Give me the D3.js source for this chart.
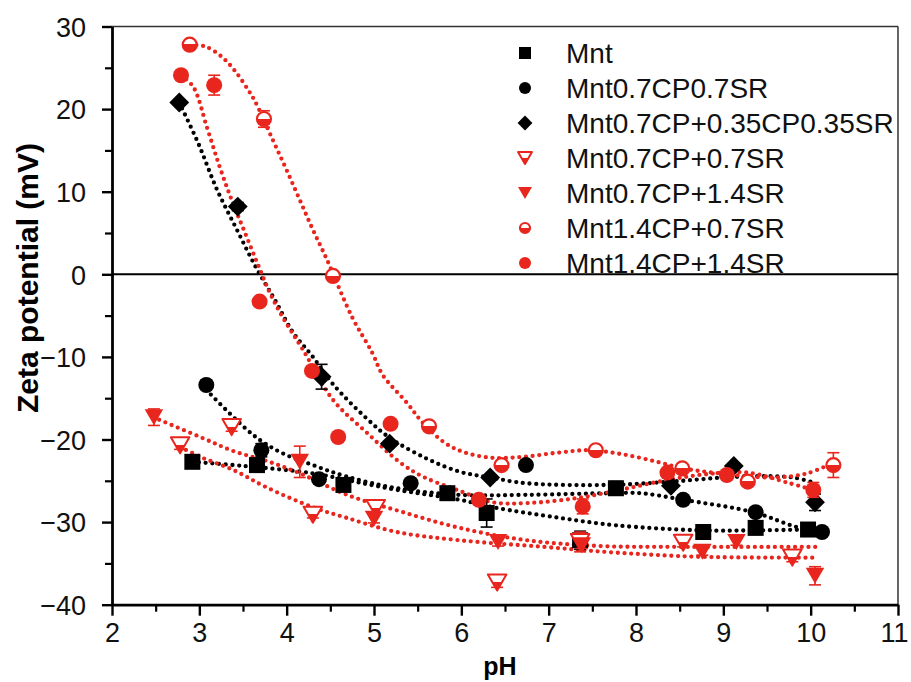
<!DOCTYPE html>
<html>
<head>
<meta charset="utf-8">
<script src="https://cdn.jsdelivr.net/npm/d3@7"></script>
<style>
  body { margin: 0; background: #fff; }
  svg { display: block; font-family: "Liberation Sans", Arial, sans-serif; }
</style>
</head>
<body>
<svg id="chart" width="911" height="682"></svg>
<script>
// ---- data ----
var seriesNames = ["Mnt", "Mnt0.7CP0.7SR", "Mnt0.7CP+0.35CP0.35SR", "Mnt0.7CP+0.7SR",
                   "Mnt0.7CP+1.4SR", "Mnt1.4CP+0.7SR", "Mnt1.4CP+1.4SR"];

var mntPH   = [2.92, 3.66, 4.65, 5.84, 6.29, 7.36, 7.77, 8.77, 9.37, 9.97];
var mntZeta = [-22.7, -23.1, -25.5, -26.5, -28.9, -32.2, -25.9, -31.2, -30.7, -30.9];
var mntErr  = [0.6, 0.4, 0.3, 0.3, 1.7, 1.1, 0.8, 0.3, 0.3, 0.4];
var mntFitPH   = [2.92, 3.50, 4.30, 4.87, 5.26, 5.98, 6.36, 7.13, 7.78, 8.73, 9.39, 9.96];
var mntFitZeta = [-22.7, -23.2, -24.1, -25.3, -26.1, -27.3, -28.2, -29.5, -30.4, -31.0, -31.0, -30.9];

var cpsrPH   = [3.08, 3.71, 4.37, 5.42, 6.74, 8.54, 9.37, 10.13];
var cpsrZeta = [-13.4, -21.3, -24.8, -25.3, -23.1, -27.3, -28.8, -31.2];
var cpsrErr  = [0.3, 0.8, 0.3, 0.3, 0.3, 0.4, 0.3, 0.5];
var cpsrFitPH   = [3.08, 3.61, 3.92, 4.30, 4.69, 5.26, 5.98, 6.75, 7.70, 8.05, 8.54, 9.34, 9.84, 10.13];
var cpsrFitZeta = [-14.0, -19.4, -21.5, -23.1, -24.5, -25.9, -26.7, -26.7, -26.5, -26.5, -27.3, -28.8, -30.6, -31.2];

var mixPH   = [2.77, 3.44, 4.40, 5.18, 6.33, 8.40, 9.12, 10.05];
var mixZeta = [20.8, 8.2, -12.4, -20.5, -24.6, -25.6, -23.2, -27.6];
var mixErr  = [0.3, 0.5, 1.5, 0.3, 0.3, 0.3, 0.3, 1.0];
var mixFitPH   = [2.77, 2.99, 3.20, 3.43, 3.65, 3.87, 4.07, 4.30, 4.53, 4.92, 5.18, 5.60, 5.98, 6.33, 6.75, 7.70, 8.40, 9.19, 9.80, 10.05];
var mixFitZeta = [20.8, 15.8, 10.3, 5.4, 0.8, -3.2, -7.0, -10.0, -13.3, -17.5, -19.8, -22.3, -23.9, -24.6, -25.3, -25.5, -25.1, -24.5, -24.6, -25.3];

var sr07PH   = [2.78, 3.37, 4.30, 5.02, 6.41, 7.36, 8.54, 9.79];
var sr07Zeta = [-20.7, -18.5, -29.1, -28.3, -37.3, -32.4, -32.5, -34.3];
var sr07Err  = [0.5, 0.5, 0.4, 0.5, 0.6, 1.2, 0.5, 0.5];
var sr07FitPH   = [2.78, 3.01, 3.39, 3.77, 4.30, 4.69, 5.26, 5.98, 6.94, 7.78, 8.73, 10.07];
var sr07FitZeta = [-20.9, -22.1, -23.7, -25.8, -28.2, -29.5, -31.2, -32.2, -33.0, -33.7, -34.2, -34.3];

var sr14PH   = [2.48, 4.15, 5.00, 6.42, 7.38, 8.76, 9.15, 10.05];
var sr14Zeta = [-17.3, -22.7, -29.6, -32.4, -32.8, -33.6, -32.4, -36.5];
var sr14Err  = [1.0, 1.9, 0.5, 0.5, 0.4, 0.4, 0.4, 1.1];
var sr14FitPH   = [2.47, 3.01, 3.39, 3.77, 4.15, 4.69, 5.30, 5.98, 6.75, 7.59, 8.50, 10.07];
var sr14FitZeta = [-17.3, -19.7, -21.4, -22.6, -24.1, -26.7, -28.7, -30.7, -32.2, -32.9, -33.0, -33.0];

var cp14sr07PH   = [2.89, 3.74, 4.53, 5.63, 6.46, 7.54, 8.53, 9.28, 10.26];
var cp14sr07Zeta = [27.8, 18.8, -0.2, -18.4, -23.1, -21.3, -23.5, -25.1, -23.1];
var cp14sr07Err  = [0.4, 1.0, 0.5, 0.3, 0.4, 0.4, 0.3, 0.3, 1.5];
var cp14sr07FitPH   = [2.89, 3.01, 3.09, 3.26, 3.41, 3.56, 3.64, 3.84, 4.00, 4.15, 4.30, 4.46, 4.75, 4.98, 5.10, 5.38, 5.56, 5.81, 6.02, 6.33, 6.71, 7.10, 7.47, 7.85, 8.24, 8.54, 8.96, 9.57, 9.96, 10.26];
var cp14sr07FitZeta = [27.8, 27.7, 27.5, 26.3, 24.6, 22.3, 20.9, 16.3, 12.6, 9.0, 5.4, 1.8, -5.2, -9.5, -12.2, -15.6, -18.0, -20.4, -21.5, -22.2, -22.1, -21.6, -21.3, -21.8, -22.7, -23.5, -24.1, -24.6, -24.1, -22.8];

var cp14sr14PH   = [2.79, 3.17, 3.69, 4.29, 4.59, 5.19, 6.20, 7.39, 8.36, 9.04, 10.03];
var cp14sr14Zeta = [24.1, 22.9, -3.3, -11.7, -19.7, -18.1, -27.3, -28.1, -24.0, -24.3, -26.1];
var cp14sr14Err  = [0.5, 1.2, 0.3, 0.3, 0.3, 0.3, 0.3, 0.9, 0.3, 0.3, 0.9];
var cp14sr14FitPH   = [2.79, 2.93, 3.09, 3.23, 3.37, 3.52, 3.67, 3.81, 3.96, 4.19, 4.53, 4.92, 5.30, 5.56, 5.95, 6.36, 6.75, 7.32, 7.82, 8.36, 8.81, 9.27, 9.76, 10.03];
var cp14sr14FitZeta = [24.1, 22.7, 17.7, 13.1, 9.0, 5.1, 1.2, -2.3, -5.3, -9.2, -15.2, -19.2, -22.8, -24.5, -26.1, -27.6, -27.7, -27.1, -26.1, -24.9, -24.2, -24.0, -25.3, -26.1];

var xTicks = [2, 3, 4, 5, 6, 7, 8, 9, 10, 11];
var yTicks = [-40, -30, -20, -10, 0, 10, 20, 30];

var RED = "#e8261e", BLACK = "#000";

// table built from the arrays above
var series = [
  {name: seriesNames[0], ph: mntPH, z: mntZeta, err: mntErr, fx: mntFitPH, fy: mntFitZeta, color: BLACK, shape: "square"},
  {name: seriesNames[1], ph: cpsrPH, z: cpsrZeta, err: cpsrErr, fx: cpsrFitPH, fy: cpsrFitZeta, color: BLACK, shape: "circle"},
  {name: seriesNames[2], ph: mixPH, z: mixZeta, err: mixErr, fx: mixFitPH, fy: mixFitZeta, color: BLACK, shape: "diamond"},
  {name: seriesNames[3], ph: sr07PH, z: sr07Zeta, err: sr07Err, fx: sr07FitPH, fy: sr07FitZeta, color: RED, shape: "triHalf"},
  {name: seriesNames[4], ph: sr14PH, z: sr14Zeta, err: sr14Err, fx: sr14FitPH, fy: sr14FitZeta, color: RED, shape: "tri"},
  {name: seriesNames[5], ph: cp14sr07PH, z: cp14sr07Zeta, err: cp14sr07Err, fx: cp14sr07FitPH, fy: cp14sr07FitZeta, color: RED, shape: "circleHalf"},
  {name: seriesNames[6], ph: cp14sr14PH, z: cp14sr14Zeta, err: cp14sr14Err, fx: cp14sr14FitPH, fy: cp14sr14FitZeta, color: RED, shape: "circle"}
];

var svg = d3.select("#chart");

var x = d3.scaleLinear().domain([2, 11]).range([112, 898]);
var y = d3.scaleLinear().domain([-40, 30]).range([604.7, 26.5]);

// gradient for the half filled symbols (top white, bottom red)
var grad = svg.append("defs").append("linearGradient")
    .attr("id", "halfRed").attr("x1", 0).attr("y1", 0).attr("x2", 0).attr("y2", 1);
grad.append("stop").attr("offset", "0.48").attr("stop-color", "#fff");
grad.append("stop").attr("offset", "0.48").attr("stop-color", RED);

// frame
svg.append("line").attr("x1", 112).attr("x2", 898).attr("y1", 26.5).attr("y2", 26.5)
    .attr("stroke", "#333").attr("stroke-width", 1.5);
svg.append("line").attr("x1", 898).attr("x2", 898).attr("y1", 26.5).attr("y2", 604.7)
    .attr("stroke", "#333").attr("stroke-width", 1.5);

// minor ticks
svg.append("g").attr("transform", "translate(0,604.7)")
    .call(d3.axisBottom(x).tickValues(d3.range(2.5, 11, 1)).tickSize(7).tickFormat("").tickSizeOuter(0))
    .call(function(g) { g.select(".domain").remove(); g.selectAll("line").attr("stroke-width", 2.2); });
svg.append("g").attr("transform", "translate(112,0)")
    .call(d3.axisLeft(y).tickValues(d3.range(-35, 30, 10)).tickSize(7).tickFormat("").tickSizeOuter(0))
    .call(function(g) { g.select(".domain").remove(); g.selectAll("line").attr("stroke-width", 2.2); });

// major axes
var xAxis = svg.append("g").attr("transform", "translate(0,604.7)")
    .call(d3.axisBottom(x).tickValues(xTicks).tickSize(11).tickPadding(7).tickSizeOuter(0));
var yAxis = svg.append("g").attr("transform", "translate(112,0)")
    .call(d3.axisLeft(y).tickValues(yTicks).tickSize(10).tickPadding(16).tickSizeOuter(0));
[xAxis, yAxis].forEach(function(a) {
  a.select(".domain").attr("stroke-width", 2.8);
  a.selectAll(".tick line").attr("stroke-width", 2.4);
  a.selectAll("text").attr("font-size", 27).attr("fill", "#111")
      .attr("font-family", "'Liberation Sans', Arial, sans-serif");
});
yAxis.selectAll("text").attr("dy", "0.36em");
// last label sits at the page edge, as in the figure
xAxis.selectAll(".tick text").filter(function(d) { return d === 11; }).attr("dx", -4);

// zero line
svg.append("line").attr("x1", x(2)).attr("x2", x(11)).attr("y1", y(0)).attr("y2", y(0))
    .attr("stroke", "#000").attr("stroke-width", 2);

// axis titles
svg.append("text").attr("transform", "translate(38,278) rotate(-90)")
    .attr("text-anchor", "middle").attr("font-weight", "bold").attr("font-size", 30)
    .text("Zeta potential (mV)");
svg.append("text").attr("x", 500).attr("y", 675).attr("text-anchor", "middle")
    .attr("font-weight", "bold").attr("font-size", 25).text("pH");

// dotted fit curves
var line = d3.line().curve(d3.curveCatmullRom.alpha(0.5))
    .x(function(d) { return x(d[0]); }).y(function(d) { return y(d[1]); });
svg.append("g").selectAll("path").data(series).join("path")
    .attr("d", function(s) { return line(d3.zip(s.fx, s.fy)); })
    .attr("fill", "none").attr("stroke", function(s) { return s.color; })
    .attr("stroke-width", 4.3).attr("stroke-linecap", "round")
    .attr("stroke-dasharray", "0 6.7");

// marker drawing
function drawMarker(g, shape, color, sz) {
  if (shape === "square") {
    g.append("rect").attr("x", -sz / 2).attr("y", -sz / 2).attr("width", sz).attr("height", sz).attr("fill", color);
  } else if (shape === "diamond") {
    var r = sz * 0.62;
    g.append("path").attr("d", "M0," + (-r) + "L" + r + ",0L0," + r + "L" + (-r) + ",0Z").attr("fill", color);
  } else if (shape === "circle") {
    g.append("circle").attr("r", sz / 2).attr("fill", color);
  } else if (shape === "circleHalf") {
    g.append("circle").attr("r", sz / 2 - 1).attr("fill", "url(#halfRed)").attr("stroke", color).attr("stroke-width", 2.2);
  } else {
    var w = sz * 0.58, h = sz * 0.5;
    g.append("path").attr("d", "M" + (-w) + "," + (-h) + "L" + w + "," + (-h) + "L0," + h + "Z")
        .attr("fill", shape === "triHalf" ? "url(#halfRed)" : color)
        .attr("stroke", color).attr("stroke-width", shape === "triHalf" ? 2 : 0)
        .attr("stroke-linejoin", "round");
  }
}

// error bars and markers
series.forEach(function(s) {
  var g = svg.append("g");
  s.ph.forEach(function(p, i) {
    var cx = x(p), cy = y(s.z[i]), e = s.err[i];
    var eb = g.append("g").attr("stroke", s.color).attr("stroke-width", 1.6);
    eb.append("line").attr("x1", cx).attr("x2", cx).attr("y1", y(s.z[i] + e)).attr("y2", y(s.z[i] - e));
    [s.z[i] + e, s.z[i] - e].forEach(function(v) {
      eb.append("line").attr("x1", cx - 6).attr("x2", cx + 6).attr("y1", y(v)).attr("y2", y(v));
    });
    var m = g.append("g").attr("transform", "translate(" + cx + "," + cy + ")");
    drawMarker(m, s.shape, s.color, 16);
  });
});

// legend
var leg = svg.append("g");
series.forEach(function(s, i) {
  var cy = 53 + i * 35;
  var m = leg.append("g").attr("transform", "translate(525," + cy + ")");
  drawMarker(m, s.shape, s.color, 12);
  leg.append("text").attr("x", 566).attr("y", cy + 10).attr("font-size", 28).attr("fill", "#111")
      .text(s.name);
});
</script>
</body>
</html>
